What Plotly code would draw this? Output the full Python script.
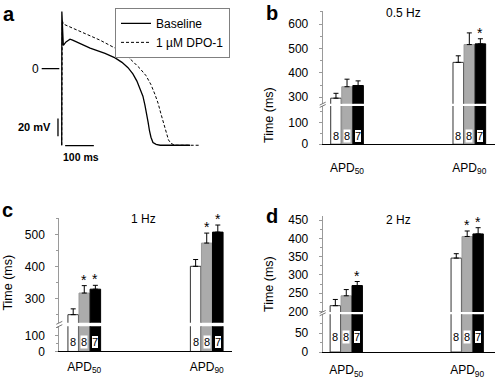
import plotly.graph_objects as go

W, H = 495, 387
FONT = "Arial, 'Liberation Sans', sans-serif"

def fx(px):
    return px / W

def fy(py):
    return 1 - py / H

# ---------------- Panel a: action potentials (ms, mV) ----------------
baseline_t = [0, 0.5, 5.6, 15, 29, 38, 99, 151, 186, 210, 231, 248, 262, 273, 283, 290, 296, 301, 306, 311, 318, 329, 343, 447]
baseline_v = [-86, 64, 26, 30, 33, 32, 23, 17, 12, 7, 1, -6, -14, -22, -31, -41, -50, -60, -70, -77, -83, -85, -86, -86]
dpo_t = [0, 2, 5.6, 64, 133, 186, 221, 248, 273, 294, 311, 325, 336, 346, 355, 363, 372, 381, 395, 412, 482]
dpo_v = [-86, 54, 50, 42, 32, 23, 16, 8, 0, -8, -18, -29, -39, -51, -62, -72, -80, -84, -86, -86, -86]

# ---------------- Bar panels ----------------
groups = ["APD<sub>50</sub>", "APD<sub>90</sub>"]
series_names = ["Baseline", "Intermediate", "1 µM DPO-1"]
n_labels = ["8", "8", "7"]

# 0.5 Hz
b_base = [296, 443]
b_mid = [343, 516]
b_dpo = [348, 519]
b_base_err = [20, 27]
b_mid_err = [31, 48]
b_dpo_err = [19, 21]
b_base_sig = [0, 0]
b_mid_sig = [0, 0]
b_dpo_sig = [0, 1]

# 1 Hz
c_base = [251, 401]
c_mid = [318, 473]
c_dpo = [330, 507]
c_base_err = [18, 21]
c_mid_err = [23, 31]
c_dpo_err = [12, 22]
c_base_sig = [0, 0]
c_mid_sig = [1, 1]
c_dpo_sig = [1, 1]

# 2 Hz
d_base = [216, 346]
d_mid = [243, 405]
d_dpo = [271, 412]
d_base_err = [17, 12]
d_mid_err = [17, 15]
d_dpo_err = [11, 17]
d_base_sig = [0, 0]
d_mid_sig = [0, 1]
d_dpo_sig = [1, 1]

b_upper_ticks = [300, 400, 500, 600]
b_lower_ticks = [0, 100]
c_upper_ticks = [300, 400, 500]
c_lower_ticks = [0, 100]
d_upper_ticks = [200, 250, 300, 350, 400, 450]
d_lower_ticks = [0, 50]

fills = ["white", "#ababab", "black"]
edges = ["#333333", "#9a9a9a", "black"]
offsets = [-0.0905, 0, 0.0905]
BAR_W = 0.086

fig = go.Figure()

fig.add_trace(go.Scatter(x=baseline_t, y=baseline_v, mode="lines", name="Baseline",
                         line=dict(color="black", width=1.3), xaxis="x", yaxis="y"))
fig.add_trace(go.Scatter(x=dpo_t, y=dpo_v, mode="lines", name="1 µM DPO-1",
                         line=dict(color="black", width=1, dash="3px,2px"), xaxis="x", yaxis="y"))

panels = [
    dict(key="b", xa="x2", ylo="y2", yup="y3",
         means=[b_base, b_mid, b_dpo], errs=[b_base_err, b_mid_err, b_dpo_err],
         sigs=[b_base_sig, b_mid_sig, b_dpo_sig],
         up_ticks=b_upper_ticks, lo_ticks=b_lower_ticks, minor=50,
         xpx=[322.7, 495], xr=[-0.199, 1.21],
         lopx=[145, 105.7], lor=[0, 176], uppx=[103.3, 8], upr=[273.6, 654.8],
         n_y=38, standoff=12, title="0.5 Hz", title_xy=(403, 10),
         ytitle_xy=(269, 115), letter="b", letter_xy=(264, 10.5)),
    dict(key="c", xa="x3", ylo="y4", yup="y5",
         means=[c_base, c_mid, c_dpo], errs=[c_base_err, c_mid_err, c_dpo_err],
         sigs=[c_base_sig, c_mid_sig, c_dpo_sig],
         up_ticks=c_upper_ticks, lo_ticks=c_lower_ticks, minor=50,
         xpx=[59.3, 231.7], xr=[-0.204, 1.204],
         lopx=[357.7, 331.7], lor=[0, 160.5], uppx=[328.3, 220.7], upr=[225.7, 550.8],
         n_y=63, standoff=4, title="1 Hz", title_xy=(143, 222),
         ytitle_xy=(8, 287), letter="c", letter_xy=(0, 212)),
    dict(key="d", xa="x4", ylo="y6", yup="y7",
         means=[d_base, d_mid, d_dpo], errs=[d_base_err, d_mid_err, d_dpo_err],
         sigs=[d_base_sig, d_mid_sig, d_dpo_sig],
         up_ticks=d_upper_ticks, lo_ticks=d_lower_ticks, minor=25,
         xpx=[322.7, 495], xr=[-0.195, 1.23],
         lopx=[358.3, 319.5], lor=[0, 99.5], uppx=[317.1, 219], upr=[199, 460],
         n_y=40.5, standoff=7, title="2 Hz", title_xy=(398, 223),
         ytitle_xy=(268.5, 289), letter="d", letter_xy=(264, 219)),
]

annotations = []
shapes = []
layout_axes = {}

def axname(ref):
    return ("xaxis" if ref[0] == "x" else "yaxis") + ref[1:]

for p in panels:
    for s in range(3):
        xs = [g + offsets[s] for g in range(len(groups))]
        for seg in ("lo", "up"):
            kw = dict(x=xs, y=p["means"][s], width=BAR_W,
                      marker=dict(color=fills[s], line=dict(color=edges[s], width=1)),
                      xaxis=p["xa"], yaxis=p["ylo"] if seg == "lo" else p["yup"],
                      showlegend=False, name=series_names[s], hoverinfo="skip")
            if seg == "up":
                kw["error_y"] = dict(type="data", array=p["errs"][s], arrayminus=[0] * len(groups),
                                     symmetric=False, color="black", thickness=1, width=2.5)
            fig.add_trace(go.Bar(**kw))
        for g in range(len(groups)):
            annotations.append(dict(
                x=xs[g], y=p["n_y"], xref=p["xa"], yref=p["ylo"], text=n_labels[s],
                showarrow=False, xanchor="center", yanchor="middle",
                font=dict(size=11, color="black", family=FONT),
                bgcolor="white" if s > 0 else "rgba(0,0,0,0)",
                bordercolor="black" if s == 2 else "rgba(0,0,0,0)",
                borderwidth=1, borderpad=0))
            if p["sigs"][s][g]:
                annotations.append(dict(
                    x=xs[g], y=p["means"][s][g] + p["errs"][s][g], xref=p["xa"], yref=p["yup"],
                    text="*", showarrow=False, xanchor="center", yanchor="bottom", yshift=-4,
                    font=dict(size=14, color="black", family=FONT)))

    tickfont = dict(size=12, color="black", family=FONT)
    layout_axes[axname(p["xa"])] = dict(
        domain=[fx(p["xpx"][0]), fx(p["xpx"][1])], range=p["xr"], anchor=p["ylo"],
        showline=True, linecolor="black", linewidth=1, ticks="", showgrid=False, zeroline=False,
        tickmode="array", tickvals=list(range(len(groups))), ticktext=groups,
        tickfont=tickfont, ticklabelstandoff=p["standoff"], fixedrange=True)
    common_y = dict(anchor=p["xa"], showline=True, linecolor="#9a9a9a", linewidth=1,
                    ticks="outside", ticklen=3, tickcolor="#9a9a9a", showgrid=False,
                    zeroline=False, tickmode="array", tickfont=tickfont, ticklabelstandoff=8,
                    fixedrange=True,
                    minor=dict(dtick=p["minor"], tick0=0, ticks="outside", ticklen=2,
                               tickcolor="#9a9a9a", showgrid=False))
    layout_axes[axname(p["ylo"])] = dict(common_y, domain=[fy(p["lopx"][0]), fy(p["lopx"][1])],
                                         range=p["lor"], tickvals=p["lo_ticks"])
    layout_axes[axname(p["yup"])] = dict(common_y, domain=[fy(p["uppx"][0]), fy(p["uppx"][1])],
                                         range=p["upr"], tickvals=p["up_ticks"])

    ax_px = p["xpx"][0]
    for yy in (p["lopx"][1], p["uppx"][0]):
        shapes.append(dict(type="line", xref="paper", yref="paper",
                           x0=fx(ax_px - 3), y0=fy(yy + 1.5), x1=fx(ax_px + 3), y1=fy(yy - 1.5),
                           line=dict(color="#777777", width=1)))

    annotations.append(dict(x=fx(p["title_xy"][0]), y=fy(p["title_xy"][1]), xref="paper", yref="paper",
                            text=p["title"], showarrow=False, xanchor="center", yanchor="middle",
                            font=dict(size=12, color="black", family=FONT)))
    annotations.append(dict(x=fx(p["ytitle_xy"][0]), y=fy(p["ytitle_xy"][1]), xref="paper", yref="paper",
                            text="Time (ms)", textangle=-90, showarrow=False,
                            xanchor="center", yanchor="middle",
                            font=dict(size=12.5, color="black", family=FONT)))
    annotations.append(dict(x=fx(p["letter_xy"][0]), y=fy(p["letter_xy"][1]), xref="paper", yref="paper",
                            text="<b>%s</b>" % p["letter"], showarrow=False, xanchor="left", yanchor="middle",
                            font=dict(size=20, color="black", family=FONT)))

layout_axes["xaxis"] = dict(domain=[fx(30), fx(245)], range=[-110.5, 638.7], visible=False, fixedrange=True)
layout_axes["yaxis"] = dict(domain=[fy(170), fy(0)], range=[-112.2, 73.6], visible=False, fixedrange=True)

shapes += [
    dict(type="line", xref="x", yref="y", x0=-69.7, y0=0, x1=-8.4, y1=0, line=dict(color="black", width=1.3)),
    dict(type="line", xref="x", yref="y", x0=-13, y0=-56, x1=-13, y1=-76, line=dict(color="black", width=1.3)),
    dict(type="line", xref="x", yref="y", x0=12, y0=-86.5, x1=112, y1=-86.5, line=dict(color="black", width=1.3)),
]
annotations += [
    dict(x=-72, y=0, xref="x", yref="y", text="0", showarrow=False, xanchor="right", yanchor="middle",
         font=dict(size=12, color="black", family=FONT)),
    dict(x=-30, y=-66, xref="x", yref="y", text="<b>20 mV</b>", showarrow=False, xanchor="right",
         yanchor="middle", font=dict(size=11, color="black", family=FONT)),
    dict(x=67, y=-99, xref="x", yref="y", text="<b>100 ms</b>", showarrow=False, xanchor="center",
         yanchor="middle", font=dict(size=10.5, color="black", family=FONT)),
    dict(x=fx(1), y=fy(11), xref="paper", yref="paper", text="<b>a</b>", showarrow=False, xanchor="left",
         yanchor="middle", font=dict(size=20, color="black", family=FONT)),
]

fig.update_layout(
    width=W, height=H, margin=dict(l=0, r=0, t=0, b=0),
    paper_bgcolor="white", plot_bgcolor="white",
    font=dict(family=FONT, color="black"),
    barmode="overlay",
    showlegend=True,
    hovermode=False,
    legend=dict(x=fx(115), y=fy(5), xanchor="left", yanchor="top",
                bordercolor="#808080", borderwidth=1, bgcolor="white",
                font=dict(size=12, color="black", family=FONT), tracegroupgap=0, itemwidth=30),
    annotations=annotations, shapes=shapes,
    **layout_axes,
)

fig.write_html("out.html", config={"displayModeBar": False},
               post_script="document.body.style.margin='0';document.body.style.overflow='hidden';")
